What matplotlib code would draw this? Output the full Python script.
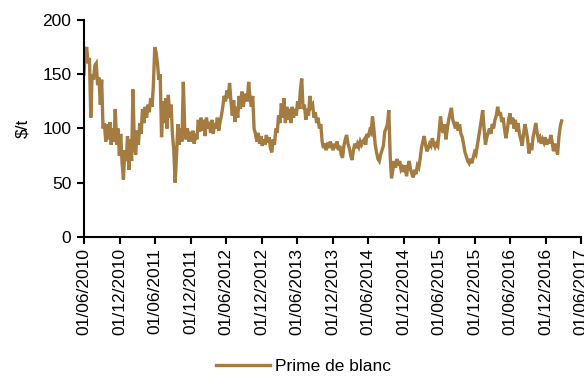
import matplotlib
matplotlib.use("Agg")
import matplotlib.pyplot as plt
import matplotlib.dates as mdates
import pandas as pd

plt.rcParams['font.family'] = ['Liberation Sans', 'DejaVu Sans']

# Weekly white premium ($/t), starting 1 June 2010, in half-year blocks
h2_2010 = [150, 172, 175, 160, 165, 110, 150, 145, 158, 160, 140, 147, 122,
           145, 100, 105, 88, 104, 90, 106, 85, 100, 88, 118, 85, 100]
h1_2011 = [75, 95, 68, 53, 80, 70, 93, 62, 90, 70, 136, 85, 76, 98, 85, 105,
           95, 118, 105, 120, 110, 122, 115, 128, 120, 140]
h2_2011 = [175, 170, 160, 145, 150, 92, 125, 105, 128, 100, 131, 110, 122,
           95, 80, 50, 75, 104, 85, 100, 88, 143, 100, 90, 100, 88]
h1_2012 = [97, 88, 98, 86, 95, 90, 108, 97, 110, 98, 108, 93, 110, 100, 106,
           96, 108, 95, 105, 100, 110, 98, 106, 112, 120, 130]
h2_2012 = [125, 135, 128, 142, 125, 112, 126, 106, 120, 110, 130, 118, 134,
           120, 128, 132, 125, 143, 128, 120, 130, 100, 95, 88, 96, 86]
h1_2013 = [93, 84, 90, 85, 94, 87, 92, 82, 78, 90, 85, 100, 96, 112, 105,
           123, 110, 128, 105, 120, 108, 118, 105, 120, 110, 118]
h2_2013 = [112, 125, 118, 135, 146, 118, 122, 108, 118, 112, 130, 120, 122,
           110, 115, 105, 110, 100, 104, 88, 82, 86, 80, 87, 82, 88]
h1_2014 = [84, 80, 86, 82, 88, 80, 84, 76, 73, 84, 90, 94, 86, 82, 75, 71,
           80, 86, 82, 86, 83, 88, 85, 88, 90, 85]
h2_2014 = [95, 92, 98, 96, 111, 100, 85, 78, 72, 70, 76, 80, 84, 97, 100,
           104, 117, 75, 54, 62, 70, 64, 72, 66, 70, 62]
h1_2015 = [64, 60, 66, 56, 65, 70, 62, 58, 55, 62, 58, 66, 64, 72, 82, 88,
           93, 85, 79, 82, 86, 84, 91, 86, 83, 86]
h2_2015 = [84, 98, 111, 100, 96, 104, 90, 100, 108, 114, 119, 108, 104, 100,
           106, 98, 104, 95, 92, 85, 78, 74, 70, 68, 72, 68]
h1_2016 = [73, 78, 76, 84, 92, 100, 108, 117, 100, 85, 92, 96, 100, 95, 104,
           100, 108, 112, 120, 112, 115, 106, 110, 100, 91, 98]
h2_2016 = [108, 114, 104, 110, 100, 108, 97, 105, 95, 90, 84, 95, 104, 98,
           90, 77, 86, 80, 92, 98, 105, 96, 90, 92, 86, 90]
h1_2017 = [87, 92, 85, 90, 86, 94, 88, 79, 86, 82, 76, 92, 102, 107]

premium = (h2_2010 + h1_2011 + h2_2011 + h1_2012 + h2_2012 + h1_2013 + h2_2013
           + h1_2014 + h2_2014 + h1_2015 + h2_2015 + h1_2016 + h2_2016 + h1_2017)
dates = pd.date_range("2010-06-01", periods=len(premium), freq="7D")

tick_dates = pd.date_range("2010-06-01", "2017-06-01", freq="6MS")
y_ticks = [0, 50, 100, 150, 200]

series_name = "Prime de blanc"
y_label = "\\$/t"
line_color = "#A47B40"

fig = plt.figure(figsize=(5.84, 3.76), dpi=100)
ax = fig.add_axes([0.1438, 0.3697, 0.8512, 0.5771])

ax.plot(dates, premium, color=line_color, linewidth=2.4, label=series_name,
        solid_joinstyle="miter")

ax.set_xlim(pd.Timestamp("2010-06-01"), pd.Timestamp("2017-06-01"))
ax.set_ylim(0, 200)
ax.set_yticks(y_ticks)
ax.set_xticks(tick_dates)
ax.xaxis.set_major_formatter(mdates.DateFormatter("%d/%m/%Y"))

for side in ("top", "right"):
    ax.spines[side].set_visible(False)
for side in ("left", "bottom"):
    ax.spines[side].set_linewidth(1.5)
    ax.spines[side].set_color("black")

ax.tick_params(axis="both", direction="out", length=5, width=1.5,
               labelsize=12.5, colors="black")
ax.tick_params(axis="x", pad=3)
ax.tick_params(axis="y", pad=4)
plt.setp(ax.get_xticklabels(), rotation=90)

ax.set_ylabel(y_label, fontsize=12.5, labelpad=9)

fig.legend(loc="center", bbox_to_anchor=(0.52, 0.025), frameon=False,
           fontsize=12.5, handlelength=3.1, handletextpad=0.3)

fig.savefig("out.png", dpi=100)
